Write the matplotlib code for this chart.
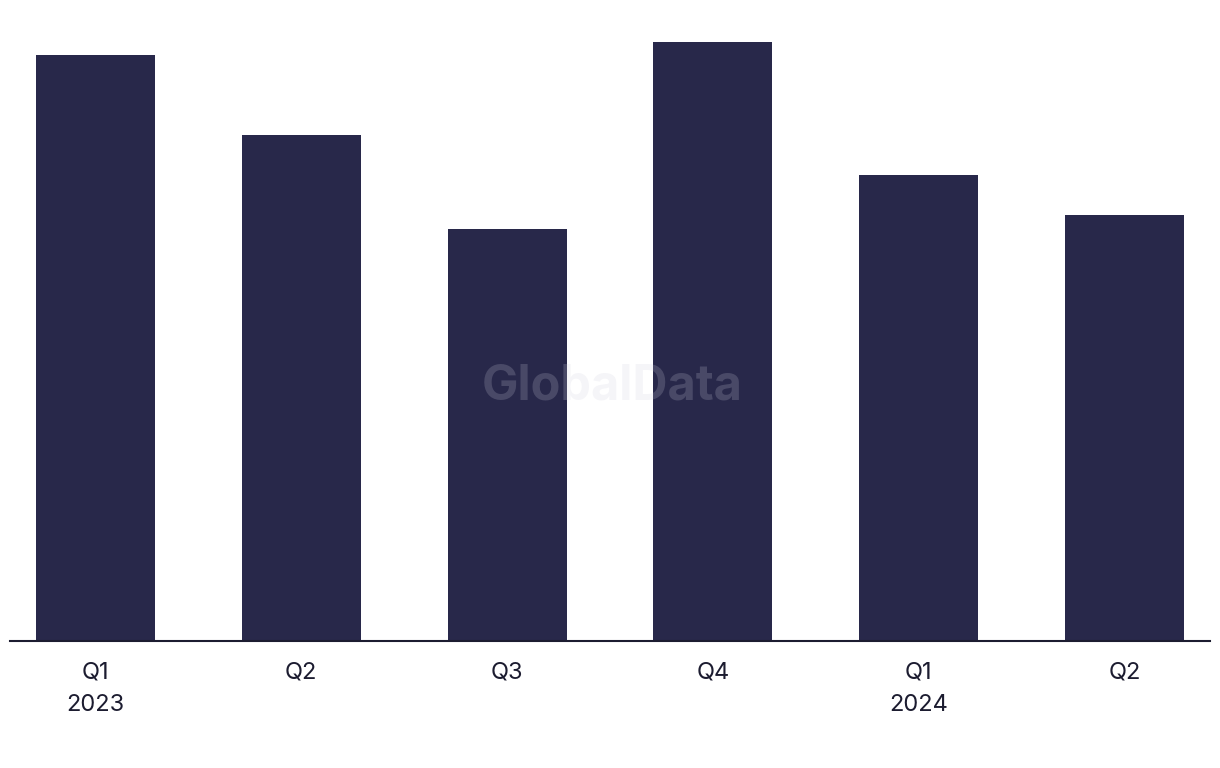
import matplotlib
matplotlib.use("Agg")
import matplotlib.pyplot as plt

categories = ["Q1\n2023", "Q2", "Q3", "Q4", "Q1\n2024", "Q2"]
values = [586, 506, 412, 599, 466, 426]

bar_color = "#28284a"
text_color = "#1c1c30"

fig = plt.figure(figsize=(12.2, 7.68), dpi=100)
ax = fig.add_axes([10/1220, 127/768, 1200/1220, 621/768])
x = list(range(len(values)))
ax.bar(x, values, width=0.578, color=bar_color, zorder=2)
ax.set_xlim(-0.4155, 5.4155)
ax.set_ylim(0, 621)
ax.set_xticks(x)
ax.set_xticklabels(categories, fontsize=17, color=text_color,
                   family=["Inter", "DejaVu Sans"], linespacing=1.6)
ax.tick_params(axis="x", length=0, pad=15)
ax.set_yticks([])
for s in ["top", "right", "left"]:
    ax.spines[s].set_visible(False)
ax.spines["bottom"].set_color(text_color)
ax.spines["bottom"].set_linewidth(1.5)

fig.text(612/1220, 1 - 387/768, "GlobalData", ha="center", va="center",
         fontsize=35, fontweight="bold", color="#cecede", alpha=0.2,
         family=["Inter", "DejaVu Sans"], zorder=5)

fig.savefig("out.png", dpi=100)
